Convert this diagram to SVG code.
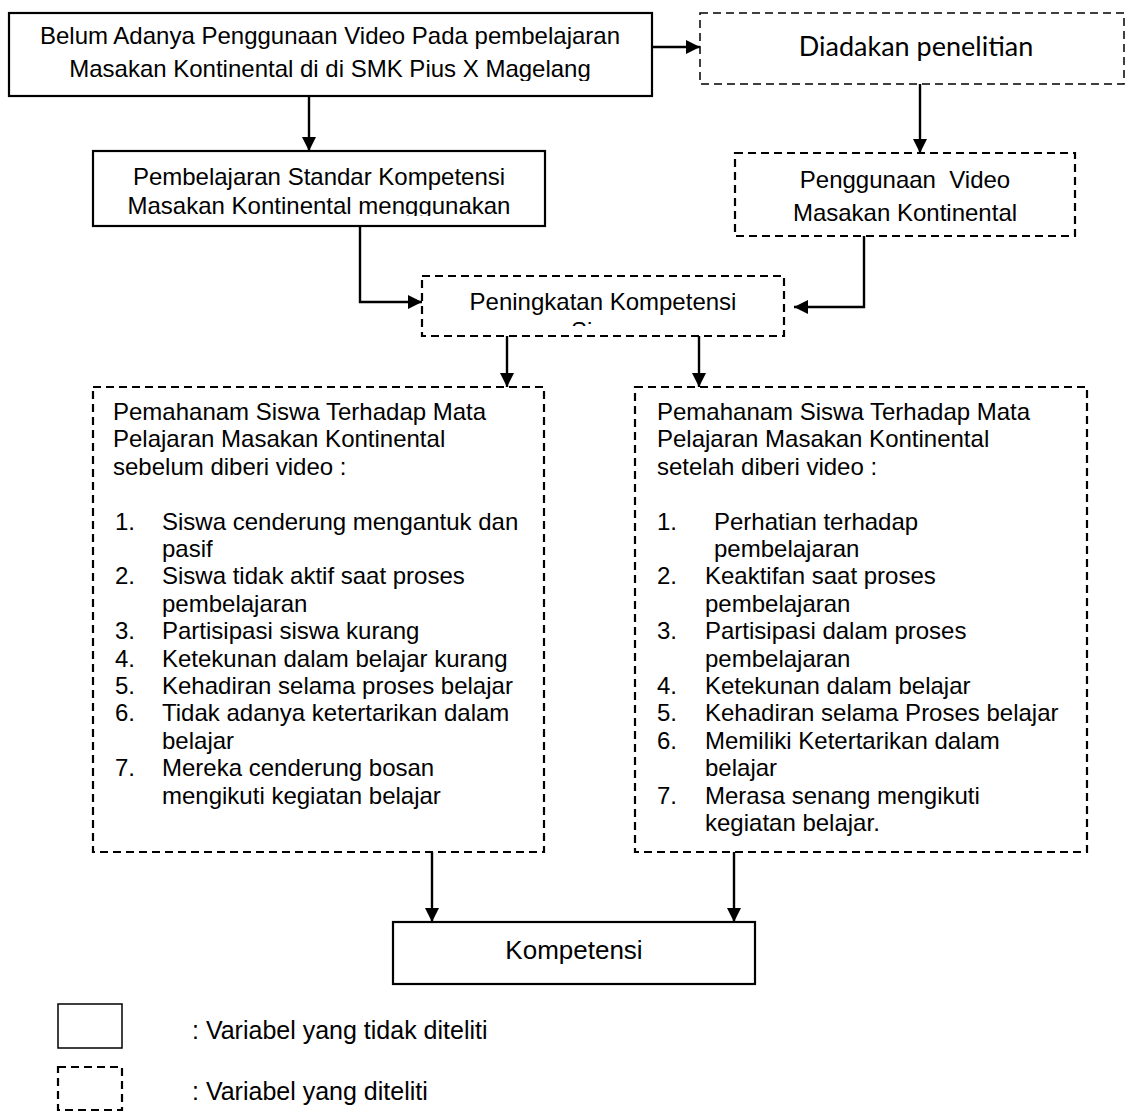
<svg xmlns="http://www.w3.org/2000/svg" width="1129" height="1113" viewBox="0 0 1129 1113">
<defs>
<style>
.solid{fill:#fff;stroke:#000;stroke-width:2.2}
.dash{fill:#fff;stroke:#000;stroke-width:2.2;stroke-dasharray:8 5}
.dash-thin{fill:#fff;stroke:#000;stroke-width:1.5;stroke-dasharray:8 5}
.t{font-family:"Liberation Sans",Arial,sans-serif;font-size:24px;fill:#000}
.c{text-anchor:middle}
.pre{white-space:pre}
.cal{font-family:Lato,"Open Sans",sans-serif;font-size:27px;fill:#000;text-anchor:middle}
.conn{fill:none;stroke:#000;stroke-width:2.4;marker-end:url(#arr)}
</style>
<marker id="arr" markerUnits="userSpaceOnUse" markerWidth="14" markerHeight="14" refX="14" refY="7" orient="auto">
<path d="M0,0 L14,7 L0,14 z" fill="#000"/>
</marker>
<clipPath id="clip1"><rect x="9" y="13" width="643" height="68"/></clipPath>
<clipPath id="clip2"><rect x="93" y="151" width="452" height="65"/></clipPath>
<clipPath id="clip4"><rect x="422" y="276" width="362" height="50"/></clipPath>
</defs>

<g id="connectors">
<path class="conn" d="M309,96 V151"/>
<path class="conn" d="M652,47 H700"/>
<path class="conn" d="M920,84 V153"/>
<path class="conn" d="M360,226 V302 H422"/>
<path class="conn" d="M864,236 V307 H794"/>
<path class="conn" d="M507,336 V387"/>
<path class="conn" d="M699,336 V387"/>
<path class="conn" d="M432,852 V922"/>
<path class="conn" d="M734,852 V922"/>
</g>

<g id="node-belum">
<rect class="solid" x="9" y="13" width="643" height="83"/>
<g clip-path="url(#clip1)">
<text class="t c" x="330" y="44">Belum Adanya Penggunaan Video Pada pembelajaran</text>
<text class="t c" x="330" y="77">Masakan Kontinental di di SMK Pius X Magelang</text>
</g>
</g>

<g id="node-diadakan">
<rect class="dash-thin" x="700" y="13" width="424" height="71"/>
<text class="cal" x="916" y="56">Diadakan penelitian</text>
</g>

<g id="node-pembelajaran">
<rect class="solid" x="93" y="151" width="452" height="75"/>
<g clip-path="url(#clip2)">
<text class="t c" x="319" y="185">Pembelajaran Standar Kompetensi</text>
<text class="t c" x="319" y="214">Masakan Kontinental menggunakan</text>
</g>
</g>

<g id="node-penggunaan">
<rect class="dash" x="735" y="153" width="340" height="83"/>
<text class="t c pre" x="905" y="188" xml:space="preserve">Penggunaan  Video</text>
<text class="t c" x="905" y="221">Masakan Kontinental</text>
</g>

<g id="node-peningkatan">
<rect class="dash" x="422" y="276" width="362" height="60"/>
<g clip-path="url(#clip4)">
<text class="t c" x="603" y="310">Peningkatan Kompetensi</text>
<text class="t c" x="603" y="339">Siswa</text>
</g>
</g>

<g id="node-sebelum">
<rect class="dash" x="93" y="387" width="451" height="465"/>
<text class="t" x="113" y="420">Pemahanam Siswa Terhadap Mata</text>
<text class="t" x="113" y="447.4">Pelajaran Masakan Kontinental</text>
<text class="t" x="113" y="474.8">sebelum diberi video :</text>
<text class="t" x="115" y="529.6">1.</text><text class="t" x="162" y="529.6">Siswa cenderung mengantuk dan</text>
<text class="t" x="162" y="557">pasif</text>
<text class="t" x="115" y="584.4">2.</text><text class="t" x="162" y="584.4">Siswa tidak aktif saat proses</text>
<text class="t" x="162" y="611.8">pembelajaran</text>
<text class="t" x="115" y="639.2">3.</text><text class="t" x="162" y="639.2">Partisipasi siswa kurang</text>
<text class="t" x="115" y="666.6">4.</text><text class="t" x="162" y="666.6">Ketekunan dalam belajar kurang</text>
<text class="t" x="115" y="694">5.</text><text class="t" x="162" y="694">Kehadiran selama proses belajar</text>
<text class="t" x="115" y="721.4">6.</text><text class="t" x="162" y="721.4">Tidak adanya ketertarikan dalam</text>
<text class="t" x="162" y="748.8">belajar</text>
<text class="t" x="115" y="776.2">7.</text><text class="t" x="162" y="776.2">Mereka cenderung bosan</text>
<text class="t" x="162" y="803.6">mengikuti kegiatan belajar</text>
</g>

<g id="node-setelah">
<rect class="dash" x="635" y="387" width="452" height="465"/>
<text class="t" x="657" y="420">Pemahanam Siswa Terhadap Mata</text>
<text class="t" x="657" y="447.4">Pelajaran Masakan Kontinental</text>
<text class="t" x="657" y="474.8">setelah diberi video :</text>
<text class="t" x="657" y="529.6">1.</text><text class="t" x="714" y="529.6">Perhatian terhadap</text>
<text class="t" x="714" y="557">pembelajaran</text>
<text class="t" x="657" y="584.4">2.</text><text class="t" x="705" y="584.4">Keaktifan saat proses</text>
<text class="t" x="705" y="611.8">pembelajaran</text>
<text class="t" x="657" y="639.2">3.</text><text class="t" x="705" y="639.2">Partisipasi dalam proses</text>
<text class="t" x="705" y="666.6">pembelajaran</text>
<text class="t" x="657" y="694">4.</text><text class="t" x="705" y="694">Ketekunan dalam belajar</text>
<text class="t" x="657" y="721.4">5.</text><text class="t" x="705" y="721.4">Kehadiran selama Proses belajar</text>
<text class="t" x="657" y="748.8">6.</text><text class="t" x="705" y="748.8">Memiliki Ketertarikan dalam</text>
<text class="t" x="705" y="776.2">belajar</text>
<text class="t" x="657" y="803.6">7.</text><text class="t" x="705" y="803.6">Merasa senang mengikuti</text>
<text class="t" x="705" y="831">kegiatan belajar.</text>
</g>

<g id="node-kompetensi">
<rect class="solid" x="393" y="922" width="362" height="62"/>
<text class="t c" x="574" y="959" style="font-size:26px">Kompetensi</text>
</g>

<g id="legend">
<rect class="solid" x="58" y="1004" width="64" height="44" style="stroke-width:1.5"/>
<text class="t" x="192" y="1039" style="font-size:25px">: Variabel yang tidak diteliti</text>
<rect class="dash" x="58" y="1067" width="64" height="43"/>
<text class="t" x="192" y="1100" style="font-size:25px">: Variabel yang diteliti</text>
</g>
</svg>
